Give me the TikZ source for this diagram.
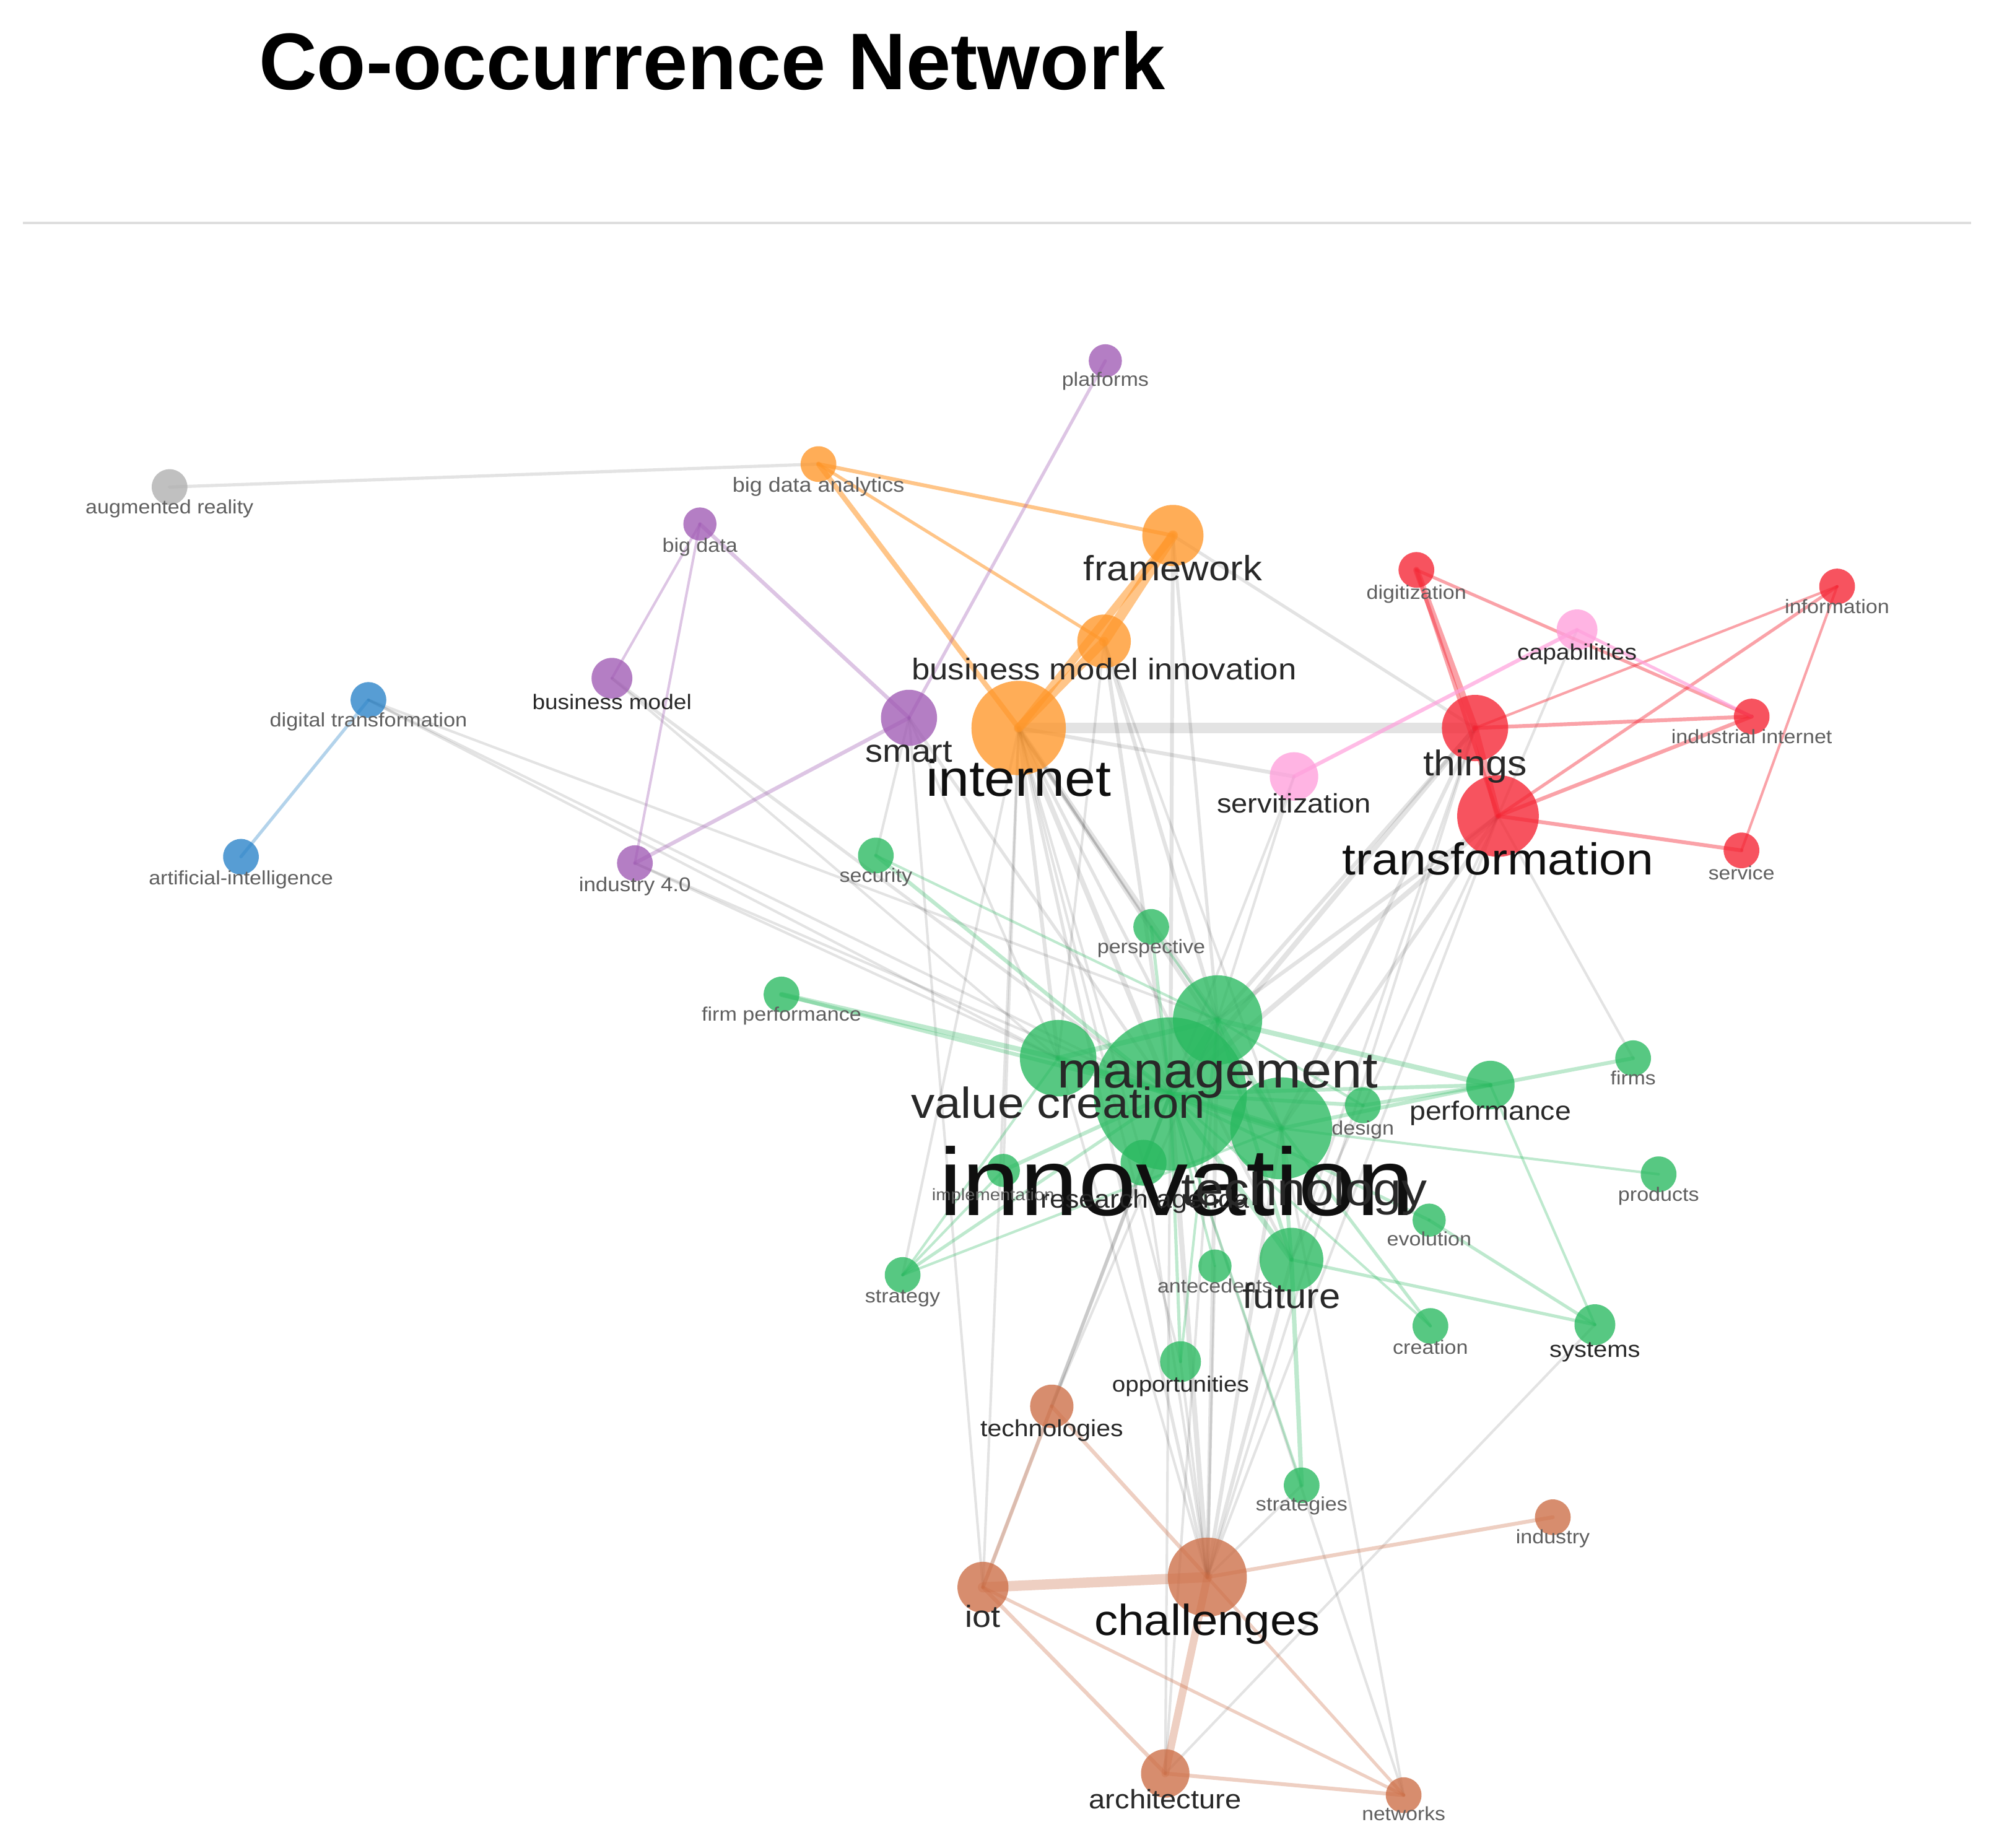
\documentclass[tikz,border=0pt]{standalone}
\usepackage{fontspec}
\setmainfont{Liberation Sans}
\newfontfamily\lblfont[FakeStretch=1.09]{Liberation Sans}
\definecolor{cgreen}{RGB}{40,185,95}
\definecolor{corange}{RGB}{255,150,40}
\definecolor{cpurple}{RGB}{160,90,180}
\definecolor{cblue}{RGB}{40,130,200}
\definecolor{cred}{RGB}{245,35,50}
\definecolor{cpink}{RGB}{255,160,220}
\definecolor{cbrown}{RGB}{205,110,70}
\definecolor{cgray}{RGB}{175,175,175}
\definecolor{lblk}{RGB}{15,15,15}
\definecolor{ldark}{RGB}{40,40,40}
\definecolor{lgray}{RGB}{95,95,95}
\pgfdeclarelayer{bgl}
\pgfdeclarelayer{edges}
\pgfdeclarelayer{labels}
\pgfsetlayers{bgl,edges,main,labels}
\tikzset{
  kwc/.style={circle,draw=none,inner sep=0pt,fill opacity=0.78},
  kwl/.style={inner sep=0pt,anchor=base},
  gedge/.style={draw=black,draw opacity=0.11,line cap=round},
  gnedge/.style={draw=cgreen,draw opacity=0.3,line cap=round},
  oredge/.style={draw=corange,draw opacity=0.55,line cap=round},
  puedge/.style={draw=cpurple,draw opacity=0.35,line cap=round},
  bledge/.style={draw=cblue,draw opacity=0.35,line cap=round},
  rdedge/.style={draw=cred,draw opacity=0.42,line cap=round},
  pkedge/.style={draw=cpink,draw opacity=0.7,line cap=round},
  bredge/.style={draw=cbrown,draw opacity=0.33,line cap=round},
}
\newcommand\kw[8]{%
  \node[kwc,fill=#4,minimum size=#3*2] (#1) at #2 {};
  \begin{pgfonlayer}{labels}
  \node[kwl,text=#8,yshift={-0.26*#7},font=\lblfont\fontsize{#7}{#7}\selectfont] (#1l) at #6 {#5};
  \end{pgfonlayer}}
\begin{document}
\begin{tikzpicture}[x=1pt,y=-1pt]
\begin{pgfonlayer}{bgl}
\fill[white] (0,0) rectangle (1568,1449);
\end{pgfonlayer}
\useasboundingbox (0,0) rectangle (1568,1449);
\node[anchor=base west,inner sep=0pt,font=\fontsize{63}{63}\selectfont\bfseries] (title) at (203,70) {Co-occurrence Network};
\draw[black!13,line width=2pt] (18,175) -- (1546,175);
% gray / orange / purple / blue
\kw{aug}{(133,382)}{14}{cgray}{augmented reality}{(133,399)}{15.2}{lgray}
\kw{bda}{(642,364)}{14}{corange}{big data analytics}{(642,382)}{16}{lgray}
\kw{fw}{(920,420)}{24}{corange}{framework}{(920,448)}{27.5}{ldark}
\kw{bmi}{(866,503)}{21}{corange}{business model innovation}{(866,527)}{23.5}{ldark}
\kw{inet}{(799,571)}{37}{corange}{internet}{(799,614)}{40}{lblk}
\kw{plat}{(867,283)}{13}{cpurple}{platforms}{(867,299)}{15.2}{lgray}
\kw{bigd}{(549,411)}{13}{cpurple}{big data}{(549,429)}{15.2}{lgray}
\kw{bm}{(480,532)}{16}{cpurple}{business model}{(480,552)}{16.5}{ldark}
\kw{smart}{(713,563)}{22}{cpurple}{smart}{(713,591)}{25}{ldark}
\kw{i40}{(498,677)}{14}{cpurple}{industry 4.0}{(498,695)}{15.6}{lgray}
\kw{dt}{(289,549)}{14}{cblue}{digital transformation}{(289,566)}{15.3}{lgray}
\kw{ai}{(189,672)}{14}{cblue}{artificial-intelligence}{(189,690)}{15.2}{lgray}
% red / pink
\kw{digz}{(1111,447)}{14}{cred}{digitization}{(1111,466)}{15.2}{lgray}
\kw{info}{(1441,460)}{14}{cred}{information}{(1441,477)}{15.2}{lgray}
\kw{iint}{(1374,562)}{14}{cred}{industrial internet}{(1374,579)}{15.2}{lgray}
\kw{thg}{(1157,571)}{26}{cred}{things}{(1157,601)}{28}{ldark}
\kw{transf}{(1175,640)}{32}{cred}{transformation}{(1175,677)}{35}{lblk}
\kw{serv}{(1366,667)}{14}{cred}{service}{(1366,686)}{15}{lgray}
\kw{capab}{(1237,494)}{16}{cpink}{capabilities}{(1237,513)}{17.4}{ldark}
\kw{servit}{(1015,609)}{19}{cpink}{servitization}{(1015,632)}{21}{ldark}
% green
\kw{sec}{(687,671)}{14}{cgreen}{security}{(687,688)}{15.2}{lgray}
\kw{persp}{(903,727)}{14}{cgreen}{perspective}{(903,744)}{15.2}{lgray}
\kw{firmp}{(613,780)}{14}{cgreen}{firm performance}{(613,797)}{15.2}{lgray}
\kw{innov}{(918,858)}{60}{cgreen}{innovation}{(923,934)}{75}{lblk}
\kw{mgmt}{(955,800)}{35}{cgreen}{management}{(955,843)}{39.5}{ldark}
\kw{vc}{(830,830)}{30}{cgreen}{value creation}{(830,868)}{34}{ldark}
\kw{impl}{(787,918)}{13}{cgreen}{implementation}{(779,938)}{13}{lgray}
\kw{ragenda}{(897,912)}{18}{cgreen}{research agenda}{(898,942)}{20}{ldark}
\kw{tech}{(1005,885)}{40}{cgreen}{technology}{(1023,936)}{36.5}{ldark}
\kw{design}{(1069,867)}{14}{cgreen}{design}{(1069,886)}{15.2}{lgray}
\kw{perf}{(1169,851)}{19}{cgreen}{performance}{(1169,873)}{20.7}{ldark}
\kw{firms}{(1281,830)}{14}{cgreen}{firms}{(1281,847)}{15}{lgray}
\kw{prod}{(1301,921)}{14}{cgreen}{products}{(1301,938)}{15.2}{lgray}
\kw{evol}{(1121,957)}{13}{cgreen}{evolution}{(1121,973)}{15.2}{lgray}
\kw{antec}{(953,993)}{13}{cgreen}{antecedents}{(953,1010)}{15.2}{lgray}
\kw{fut}{(1013,988)}{25}{cgreen}{future}{(1013,1019)}{27.5}{ldark}
\kw{strat}{(708,1000)}{14}{cgreen}{strategy}{(708,1018)}{15.2}{lgray}
\kw{creat}{(1122,1040)}{14}{cgreen}{creation}{(1122,1058)}{15.2}{lgray}
\kw{syst}{(1251,1039)}{16}{cgreen}{systems}{(1251,1060)}{17.8}{ldark}
\kw{opp}{(926,1068)}{16}{cgreen}{opportunities}{(926,1087)}{17.2}{ldark}
\kw{strs}{(1021,1165)}{14}{cgreen}{strategies}{(1021,1181)}{15.2}{lgray}
% brown
\kw{techs}{(825,1103)}{17}{cbrown}{technologies}{(825,1122)}{18.3}{ldark}
\kw{indy}{(1218,1190)}{14}{cbrown}{industry}{(1218,1207)}{15.2}{lgray}
\kw{iot}{(771,1245)}{20}{cbrown}{iot}{(771,1270)}{24}{ldark}
\kw{chal}{(947,1237)}{31}{cbrown}{challenges}{(947,1274)}{34}{lblk}
\kw{arch}{(914,1391)}{19}{cbrown}{architecture}{(914,1413)}{21}{ldark}
\kw{netw}{(1101,1408)}{14}{cbrown}{networks}{(1101,1424)}{15}{lgray}
\begin{pgfonlayer}{edges}
\foreach \a/\b/\w in {aug/bda/2.5, inet/thg/8, inet/servit/3, fw/innov/3, fw/mgmt/2.5, fw/thg/2.5,
  smart/innov/2.5, smart/sec/2, smart/vc/2, bm/innov/2.5, bm/vc/2, dt/innov/2, dt/vc/2, dt/mgmt/2,
  i40/innov/2, i40/vc/2, inet/innov/4, inet/mgmt/4, inet/vc/3, inet/tech/3, inet/fut/2.5, inet/chal/2.5,
  inet/persp/2, inet/ragenda/2, inet/opp/2, inet/strat/2, inet/impl/2, bmi/innov/3, bmi/mgmt/3, bmi/vc/2,
  bmi/tech/2, thg/innov/4, thg/mgmt/3, thg/tech/3, thg/chal/2, thg/fut/2, transf/innov/4, transf/mgmt/3,
  transf/tech/3, transf/firms/2, transf/fut/2, transf/chal/2, capab/transf/2, servit/innov/2, servit/mgmt/2,
  innov/chal/4, mgmt/chal/3, tech/chal/3, fut/chal/3, opp/chal/2, strs/chal/2, antec/chal/2, ragenda/chal/2,
  vc/chal/2, iot/smart/2, iot/innov/2.5, iot/inet/2, techs/innov/3, techs/mgmt/2, netw/tech/2, netw/innov/2,
  arch/innov/2, arch/mgmt/2, syst/arch/2}
  \draw[gedge,line width=\w pt] (\a.center) -- (\b.center);
\foreach \a/\b/\w in {firmp/vc/4, firmp/innov/3, sec/innov/3, sec/mgmt/2, persp/innov/2.5, persp/mgmt/2,
  mgmt/perf/4, innov/perf/3, design/perf/3, tech/perf/3, perf/firms/3, perf/syst/2, tech/prod/2,
  innov/evol/2.5, evol/syst/2.5, fut/syst/2.5, tech/creat/2.5, innov/creat/2, fut/strs/3.5, innov/strs/2,
  strat/vc/2, strat/innov/2.5, strat/impl/2, strat/tech/2, innov/antec/2, innov/opp/2.5, mgmt/opp/2,
  innov/fut/4, mgmt/fut/3, tech/fut/3, innov/design/3, mgmt/design/2, innov/mgmt/6, innov/vc/5,
  innov/tech/6, mgmt/vc/4, mgmt/tech/4, innov/impl/3, innov/ragenda/3, vc/tech/3}
  \draw[gnedge,line width=\w pt] (\a.center) -- (\b.center);
\foreach \a/\b/\w in {bda/fw/3, bda/bmi/2.5, bda/inet/4, fw/bmi/8, fw/inet/6, bmi/inet/7}
  \draw[oredge,line width=\w pt] (\a.center) -- (\b.center);
\foreach \a/\b/\w in {plat/smart/2.5, bigd/bm/2, bigd/i40/2, bigd/smart/3, i40/smart/3}
  \draw[puedge,line width=\w pt] (\a.center) -- (\b.center);
\draw[bledge,line width=2.5pt] (dt.center) -- (ai.center);
\foreach \a/\b/\w in {thg/digz/5, thg/iint/3, thg/transf/5, transf/info/2.5, transf/iint/3, transf/serv/3,
  transf/digz/3, info/serv/2, digz/iint/2.5, thg/info/2}
  \draw[rdedge,line width=\w pt] (\a.center) -- (\b.center);
\foreach \a/\b/\w in {servit/capab/3, capab/iint/2.5}
  \draw[pkedge,line width=\w pt] (\a.center) -- (\b.center);
\foreach \a/\b/\w in {techs/iot/3, techs/chal/3, iot/chal/8, iot/arch/3, iot/netw/2.5, chal/arch/6,
  chal/indy/3, chal/netw/2.5, arch/netw/3}
  \draw[bredge,line width=\w pt] (\a.center) -- (\b.center);
\end{pgfonlayer}
\end{tikzpicture}
\end{document}
